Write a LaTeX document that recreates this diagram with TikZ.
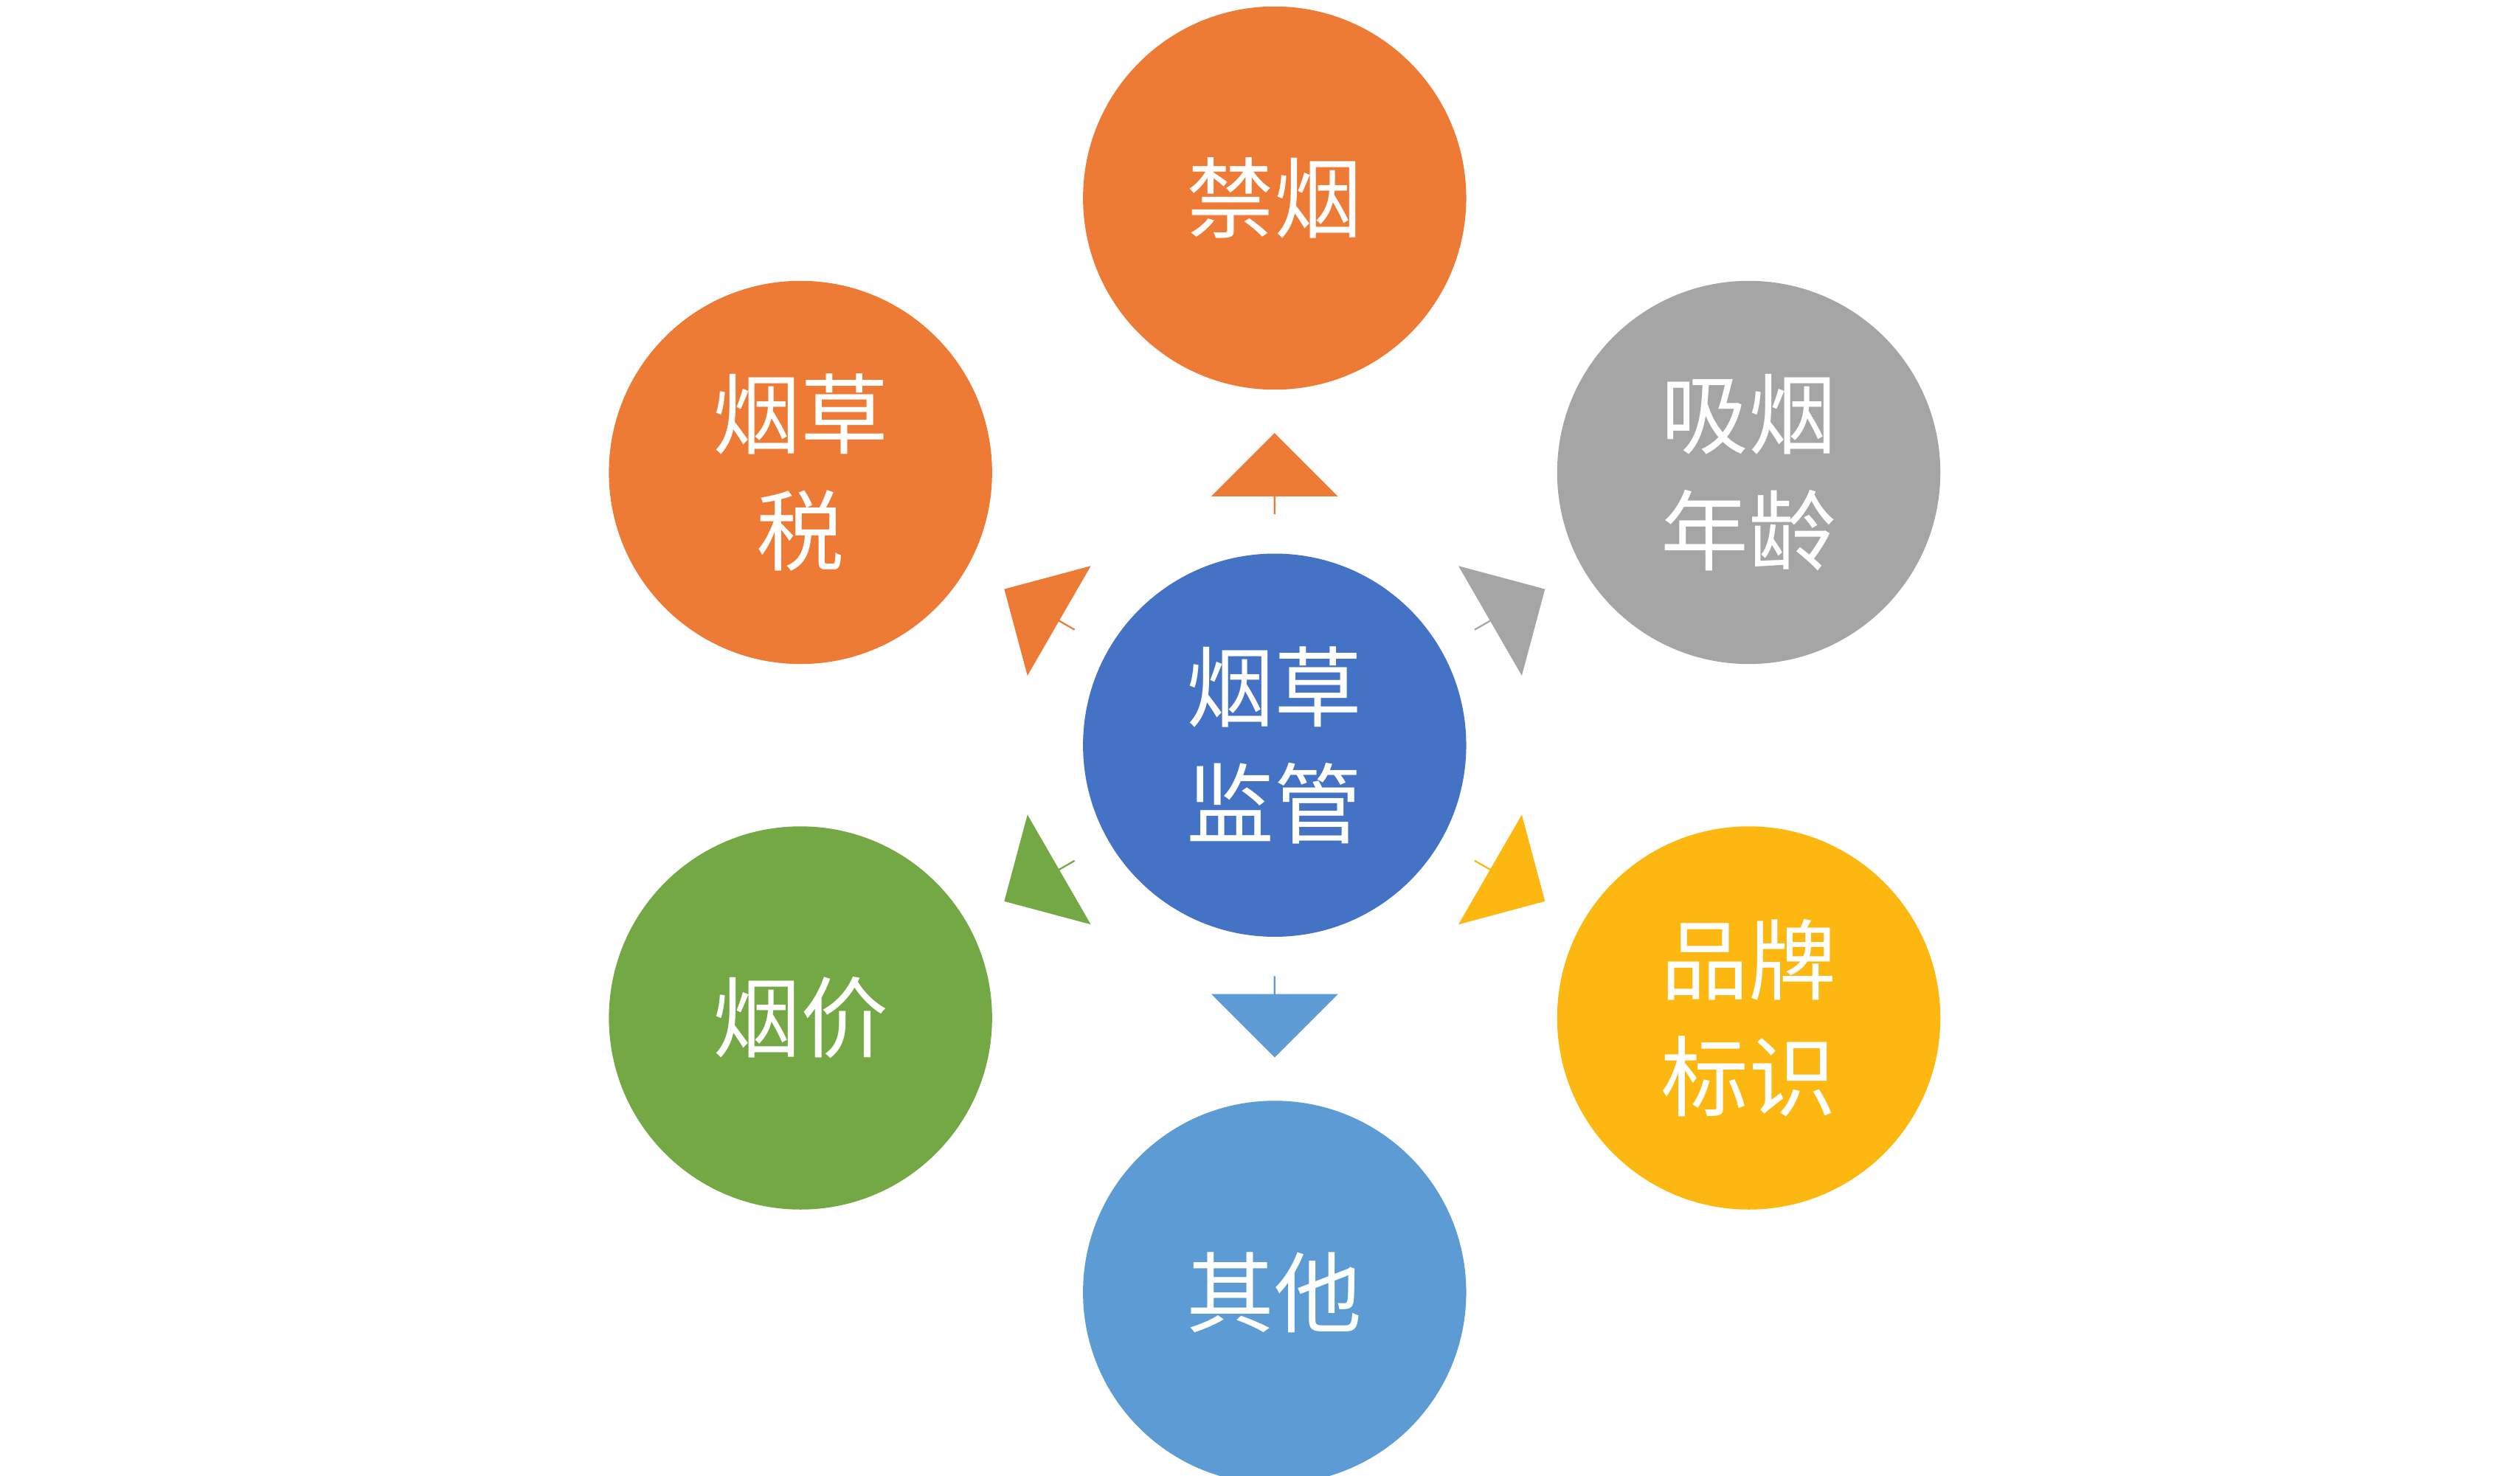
\documentclass[tikz,border=0pt]{standalone}
\usepackage{fontspec}
\usetikzlibrary{shapes.arrows,calc}
\setmainfont{Noto Sans CJK SC}
\definecolor{corange}{HTML}{EE7B35}
\definecolor{cgray}{HTML}{A5A5A5}
\definecolor{cyellow}{HTML}{FCB711}
\definecolor{cgreen}{HTML}{73A845}
\definecolor{cblue}{HTML}{4472C4}
\definecolor{clblue}{HTML}{5D9BD5}
\begin{document}
\begin{tikzpicture}[x=1pt,y=1pt,
  ball/.style={circle,minimum size=236pt,inner sep=0pt,text=white,align=center,
    font=\fontsize{54}{72}\selectfont},
  blk/.style={single arrow,draw=none,minimum width=78pt,minimum height=50pt,
    single arrow head extend=15pt,inner sep=0pt}]
\useasboundingbox (0,0) rectangle (1552,909);
\fill[white] (0,0) rectangle (1552,909);
\node[ball,fill=cblue] (c) at (785,450) {烟草\\监管};
\node[ball,fill=corange] (top) at (785,787) {禁烟};
\node[ball,fill=corange] (ul) at (493,618) {烟草\\税};
\node[ball,fill=cgray] (ur) at (1077,618) {吸烟\\年龄};
\node[ball,fill=cgreen] (ll) at (493,282) {烟价};
\node[ball,fill=cyellow] (lr) at (1077,282) {品牌\\标识};
\node[ball,fill=clblue] (bot) at (785,113) {其他};
\node[blk,fill=corange,rotate=90] (a1) at ($(c)+(90:167)$) {};
\node[blk,fill=corange,rotate=150] (a2) at ($(c)+(150:167)$) {};
\node[blk,fill=cgray,rotate=30] (a3) at ($(c)+(30:167)$) {};
\node[blk,fill=cyellow,rotate=-30] (a4) at ($(c)+(-30:167)$) {};
\node[blk,fill=clblue,rotate=-90] (a5) at ($(c)+(-90:167)$) {};
\node[blk,fill=cgreen,rotate=-150] (a6) at ($(c)+(-150:167)$) {};
\end{tikzpicture}
\end{document}
